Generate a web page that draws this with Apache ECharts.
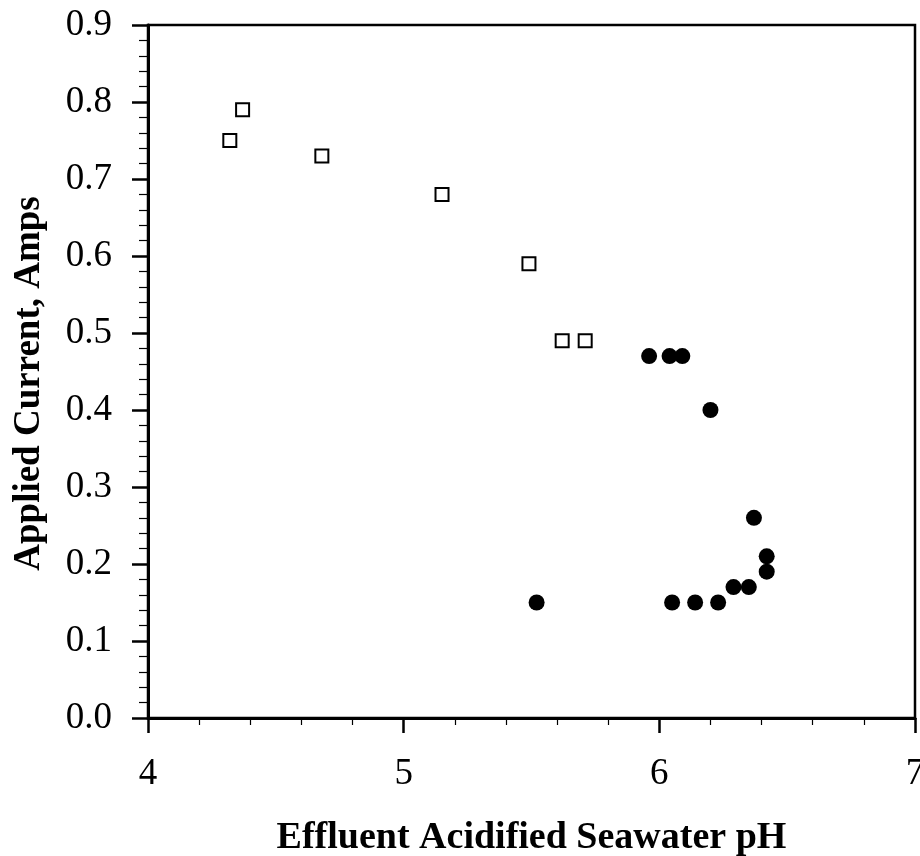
<!DOCTYPE html>
<html><head><meta charset="utf-8">
<script src="https://cdn.jsdelivr.net/npm/echarts@6/dist/echarts.min.js"></script>
<style>html,body{margin:0;padding:0;background:#fff}#c{width:920px;height:856px}</style>
</head><body><div id="c"></div>
<script>
const squarePH = [4.32, 4.37, 4.68, 5.15, 5.49, 5.62, 5.71];
const squareAmps = [0.75, 0.79, 0.73, 0.68, 0.59, 0.49, 0.49];
const circlePH = [5.96, 6.04, 6.09, 6.20, 6.37, 6.42, 6.42, 6.35, 6.29, 6.23, 6.14, 6.05, 5.52];
const circleAmps = [0.47, 0.47, 0.47, 0.40, 0.26, 0.21, 0.19, 0.17, 0.17, 0.15, 0.15, 0.15, 0.15];
const xTitle = 'Effluent Acidified Seawater pH';
const yTitle = 'Applied Current, Amps';

const font = '"Liberation Serif", "Times New Roman", serif';
const chart = echarts.init(document.getElementById('c'));
chart.setOption({
  animation: false,
  backgroundColor: '#fff',
  grid: { left: 148, right: 5, top: 25, bottom: 138, outerBoundsMode: 'none', containLabel: false,
          show: true, borderColor: '#000', borderWidth: 2.5, backgroundColor: 'transparent' },
  xAxis: {
    type: 'value', min: 4, max: 7, interval: 1,
    name: xTitle, nameLocation: 'middle', nameGap: 101,
    nameTextStyle: { fontFamily: font, fontWeight: 'bold', fontSize: 38, color: '#000' },
    axisLine: { onZero: false, lineStyle: { color: '#000', width: 3 } },
    axisTick: { length: 15, lineStyle: { color: '#000', width: 2.5 } },
    minorTick: { show: true, splitNumber: 5, length: 7, lineStyle: { color: '#000', width: 1.2 } },
    splitLine: { show: false },
    axisLabel: { fontFamily: font, fontSize: 37, color: '#000', margin: 38 }
  },
  yAxis: {
    type: 'value', min: 0, max: 0.9, interval: 0.1,
    name: yTitle, nameLocation: 'middle', nameGap: 100, nameRotate: 90,
    nameTextStyle: { fontFamily: font, fontWeight: 'bold', fontSize: 37, color: '#000', padding: [0, 24, 0, 0] },
    axisLine: { onZero: false, lineStyle: { color: '#000', width: 3 } },
    axisTick: { length: 16, lineStyle: { color: '#000', width: 2.5 } },
    minorTick: { show: true, splitNumber: 5, length: 9, lineStyle: { color: '#000', width: 1.2 } },
    splitLine: { show: false },
    axisLabel: { fontFamily: font, fontSize: 37, color: '#000', margin: 36, formatter: v => v.toFixed(1) }
  },
  series: [
    {
      type: 'scatter', symbol: 'rect', symbolSize: 13,
      itemStyle: { color: '#fff', borderColor: '#000', borderWidth: 2, opacity: 1 },
      data: squarePH.map((x, i) => [x, squareAmps[i]])
    },
    {
      type: 'scatter', symbol: 'circle', symbolSize: 16,
      itemStyle: { color: '#000', opacity: 1 },
      data: circlePH.map((x, i) => [x, circleAmps[i]])
    }
  ]
});
</script></body></html>
